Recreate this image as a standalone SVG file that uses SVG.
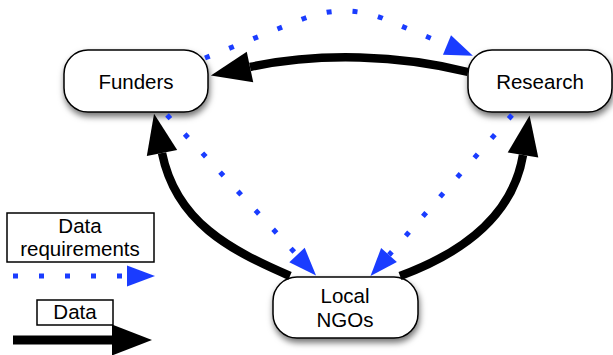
<svg xmlns="http://www.w3.org/2000/svg" width="613" height="355" viewBox="0 0 613 355">
  <style>
    .node rect { fill: #fff; stroke: #000; stroke-width: 1.5; filter: url(#shadow); }
    .box { fill: #fff; stroke: #000; stroke-width: 1.5; }
    text { font-family: "Liberation Sans", Arial, sans-serif; font-size: 20.5px; fill: #000; text-anchor: middle; }
    .data { fill: none; stroke: #000; stroke-width: 8.5; marker-end: url(#blackHead); }
    .req { fill: none; stroke: #1a3cff; stroke-width: 5; stroke-dasharray: 5 21; marker-end: url(#blueHead); }
  </style>
  <defs>
    <filter id="shadow" x="-20%" y="-20%" width="140%" height="160%">
      <feDropShadow dx="1" dy="4" stdDeviation="3" flood-color="#000" flood-opacity="0.55"/>
    </filter>
    <marker id="blackHead" markerUnits="userSpaceOnUse" viewBox="0 0 40 31" markerWidth="40" markerHeight="31" refX="0" refY="15.5" orient="auto" overflow="visible">
      <path d="M0,0 L40,15.5 L0,31 Z" fill="#000"/>
    </marker>
    <marker id="blueHead" markerUnits="userSpaceOnUse" viewBox="0 0 28 21" markerWidth="28" markerHeight="21" refX="0" refY="10.5" orient="auto" overflow="visible">
      <path d="M0,0 L28,10.5 L0,21 Z" fill="#1a3cff"/>
    </marker>
  </defs>

  <g id="funders" class="node">
    <rect x="64" y="50" width="144" height="62" rx="24" ry="24"/>
    <text x="136" y="89">Funders</text>
  </g>
  <g id="research" class="node">
    <rect x="468" y="50" width="144" height="62" rx="24" ry="24"/>
    <text x="540" y="89">Research</text>
  </g>
  <g id="ngos" class="node">
    <rect x="273" y="277" width="145" height="61" rx="24" ry="24"/>
    <text x="345" y="303">Local</text>
    <text x="345" y="327">NGOs</text>
  </g>

  <g id="connectors">
    <path class="data" d="M468,72 C400,55 320,52 250,67"/>
    <path class="req" d="M205,58 L300,20 Q341,3 382,18 L447,45"/>
    <path class="data" d="M290,276 C230,250 176,222 162,153"/>
    <path class="data" d="M400,276 C465,252 513,215 523,155"/>
    <path class="req" d="M167,115 L297,255"/>
    <path class="req" d="M512,115 L389,255"/>
  </g>

  <g id="legend">
    <g id="legend-req">
      <rect class="box" x="7" y="213" width="147" height="49"/>
      <text x="80" y="233">Data</text>
      <text x="80" y="256">requirements</text>
      <path class="req" d="M13,276 L127,276"/>
    </g>
    <g id="legend-data">
      <rect class="box" x="37" y="300" width="76" height="25"/>
      <text x="75" y="319">Data</text>
      <path class="data" d="M13,340 L112,340" style="stroke-width:9"/>
    </g>
  </g>
</svg>
